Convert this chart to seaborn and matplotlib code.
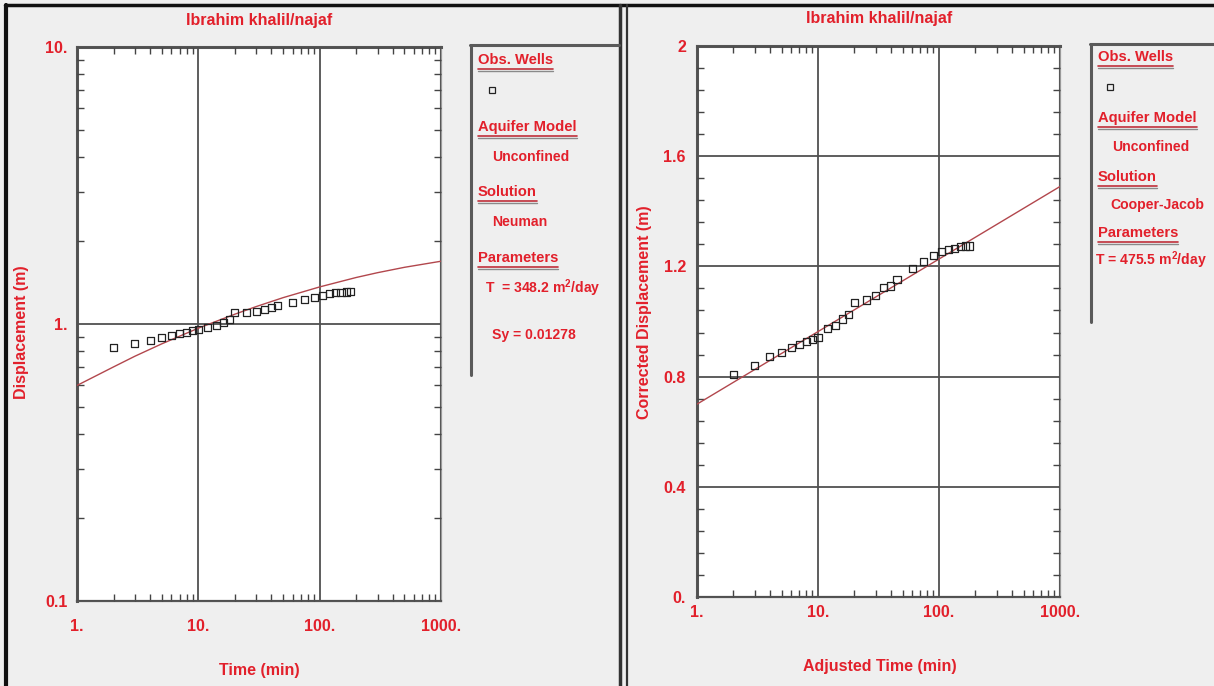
import numpy as np
import pandas as pd
import matplotlib
matplotlib.use("Agg")
import matplotlib.pyplot as plt
import seaborn as sns
from matplotlib import font_manager
from matplotlib.ticker import FixedLocator, FixedFormatter, NullFormatter
from matplotlib.lines import Line2D

# ---------------- data ----------------
time_min = [2, 3, 4, 5, 6, 7, 8, 9, 10, 12, 14, 16, 18, 20, 25, 30, 35, 40, 45,
            60, 75, 90, 105, 120, 135, 150, 165, 180]
displacement_m = [0.82, 0.85, 0.875, 0.895, 0.91, 0.925, 0.935, 0.945, 0.955,
                  0.975, 0.99, 1.01, 1.035, 1.10, 1.10, 1.11, 1.13, 1.15, 1.17,
                  1.20, 1.23, 1.25, 1.27, 1.285, 1.295, 1.30, 1.305, 1.31]
corrected_displacement_m = [0.809, 0.84, 0.872, 0.887, 0.905, 0.918, 0.926,
                            0.935, 0.943, 0.973, 0.986, 1.009, 1.026, 1.07,
                            1.078, 1.094, 1.123, 1.129, 1.151, 1.193, 1.217,
                            1.241, 1.253, 1.26, 1.266, 1.271, 1.274, 1.274]
neuman_t = [1, 2, 3, 5, 10, 20, 30, 50, 100, 200, 300, 500, 1000]
neuman_s = [0.60, 0.70, 0.765, 0.848, 0.966, 1.085, 1.156, 1.245, 1.361,
            1.472, 1.532, 1.602, 1.685]
cooper_jacob_t = [1, 1000]
cooper_jacob_s = [0.70, 1.49]

x_ticks = [1, 10, 100, 1000]
x_tick_labels = ["1.", "10.", "100.", "1000."]
left_y_ticks = [0.1, 1, 10]
left_y_tick_labels = ["0.1", "1.", "10."]
right_y_ticks = [0, 0.4, 0.8, 1.2, 1.6, 2.0]
right_y_tick_labels = ["0.", "0.4", "0.8", "1.2", "1.6", "2"]

title_text = "Ibrahim khalil/najaf"
left_legend = [("Obs. Wells", None), ("Aquifer Model", "Unconfined"),
               ("Solution", "Neuman"),
               ("Parameters", r"T  = 348.2 m$^{\mathbf{2}}$/day")]
left_extra = "Sy = 0.01278"
right_legend = [("Obs. Wells", None), ("Aquifer Model", "Unconfined"),
                ("Solution", "Cooper-Jacob"),
                ("Parameters", r"T = 475.5 m$^{\mathbf{2}}$/day")]

# ---------------- style ----------------
sns.set_theme(style="white")
names = {f.name for f in font_manager.fontManager.ttflist}
narrow = "Liberation Sans Narrow" in names
base_font = "Liberation Sans Narrow" if narrow else "Liberation Sans"
plt.rcParams["font.family"] = [base_font, "DejaVu Sans"]
plt.rcParams["mathtext.fontset"] = "custom"
plt.rcParams["mathtext.rm"] = base_font
plt.rcParams["mathtext.bf"] = base_font + ":bold"
scale = 1.0 if narrow else 0.92

RED = "#e2202b"
CURVE = "#b2474d"
BG = "#efefef"
W, H = 1214, 686

def fx(x):
    return x / W

def fy(y):
    return 1 - y / H

fig = plt.figure(figsize=(W / 100, H / 100), dpi=100, facecolor=BG)

axL = fig.add_axes([fx(77), fy(601), (441 - 77) / W, (601 - 47) / H])
axR = fig.add_axes([fx(697), fy(597), (1060 - 697) / W, (597 - 46) / H])

df = pd.DataFrame({"t": time_min, "s": displacement_m, "sc": corrected_displacement_m})
dN = pd.DataFrame({"t": neuman_t, "s": neuman_s})
dC = pd.DataFrame({"t": cooper_jacob_t, "s": cooper_jacob_s})

for ax in (axL, axR):
    ax.set_facecolor("white")
    ax.set_xscale("log")

axL.set_yscale("log")

sns.lineplot(data=dN, x="t", y="s", ax=axL, color=CURVE, lw=1.0, zorder=3)
sns.scatterplot(data=df, x="t", y="s", ax=axL, marker="s", s=26, zorder=4)
sns.lineplot(data=dC, x="t", y="s", ax=axR, color=CURVE, lw=1.0, zorder=3)
sns.scatterplot(data=df, x="t", y="sc", ax=axR, marker="s", s=26, zorder=4)

for ax in (axL, axR):
    coll = ax.collections[-1]
    coll.set_facecolor("none")
    coll.set_edgecolor("#222222")
    coll.set_linewidth(0.9)
    ax.set_xlim(1, 1000)
    ax.set_xlabel("")
    ax.set_ylabel("")
    ax.xaxis.set_major_locator(FixedLocator(x_ticks))
    ax.xaxis.set_major_formatter(FixedFormatter(x_tick_labels))
    ax.xaxis.set_minor_locator(FixedLocator(
        [m * d for d in (1, 10, 100) for m in range(2, 10)]))
    ax.xaxis.set_minor_formatter(NullFormatter())
    ax.tick_params(which="both", direction="in", top=True, right=True,
                   bottom=True, left=True, colors="#444444",
                   labelcolor=RED, labelsize=12.5 * scale)
    ax.tick_params(which="major", length=0)
    ax.tick_params(which="minor", length=5, width=1.0)
    ax.grid(True, which="major", color="#505050", lw=1.3)
    ax.set_axisbelow(False)
    for side, sp in ax.spines.items():
        sp.set_visible(True)
        sp.set_color("#555555" if side in ("left", "top", "bottom") else "#9a9a9a")
        sp.set_linewidth(2.2 if side in ("left", "top") else 1.6)

axL.set_ylim(0.1, 10)
axL.yaxis.set_major_locator(FixedLocator(left_y_ticks))
axL.yaxis.set_major_formatter(FixedFormatter(left_y_tick_labels))
axL.yaxis.set_minor_locator(FixedLocator([m * d for d in (0.1, 1) for m in range(2, 10)]))
axL.yaxis.set_minor_formatter(NullFormatter())
axL.tick_params(axis="x", which="major", pad=13)
axL.tick_params(axis="y", which="major", pad=7)

axR.set_ylim(0, 2)
axR.yaxis.set_major_locator(FixedLocator(right_y_ticks))
axR.yaxis.set_major_formatter(FixedFormatter(right_y_tick_labels))
axR.yaxis.set_minor_locator(FixedLocator(list(np.arange(0.08, 2.0, 0.08))))
axR.yaxis.set_minor_formatter(NullFormatter())
axR.tick_params(axis="x", which="major", pad=6)
axR.tick_params(axis="y", which="major", pad=8)

for ax in (axL, axR):
    for lab in ax.get_xticklabels() + ax.get_yticklabels():
        lab.set_fontweight("bold")

# ---------------- titles and axis labels ----------------
tkw = dict(color=RED, fontweight="bold", ha="center", va="center")
fs_lab = 12.5 * scale
fig.text(fx(259), fy(21), title_text, fontsize=fs_lab, **tkw)
fig.text(fx(879), fy(19), title_text, fontsize=fs_lab, **tkw)
fig.text(fx(259), fy(670), "Time (min)", fontsize=fs_lab, **tkw)
fig.text(fx(880), fy(667), "Adjusted Time (min)", fontsize=fs_lab, **tkw)
fig.text(fx(22), fy(332), "Displacement (m)", rotation=90, fontsize=fs_lab, **tkw)
fig.text(fx(645), fy(312), "Corrected Displacement (m)", rotation=90,
         fontsize=fs_lab, **tkw)

# ---------------- frames ----------------
def fline(xs, ys, color="#333333", lw=1.5):
    fig.add_artist(Line2D([fx(x) for x in xs], [fy(y) for y in ys],
                          color=color, lw=lw, transform=fig.transFigure))

fline([6, 6], [5, 690], "#111111", 3)
fline([5, 1220], [5, 5], "#111111", 2.5)
fline([620, 620], [5, 690], "#333333", 2.5)
fline([627, 627], [5, 690], "#333333", 1.6)
# legend boxes
fline([470, 619], [45, 45], "#5a5a5a", 2.2)
fline([471, 471], [45, 375], "#5a5a5a", 2.2)
fline([1090, 1220], [44, 44], "#5a5a5a", 2.2)
fline([1091, 1091], [44, 322], "#5a5a5a", 2.2)

# ---------------- legend panels ----------------
hkw = dict(color=RED, fontweight="bold", ha="left", va="center", fontsize=11.5 * scale)
vkw = dict(hkw, fontsize=11 * scale)
heads = []

def legend_panel(x0, head_y, val_y, entries, marker_xy):
    for (head, val), hy, vy in zip(entries, head_y, val_y):
        t = fig.text(fx(x0), fy(hy), head, **hkw)
        heads.append((t, hy))
        if val is not None:
            fig.text(fx(vy[0]), fy(vy[1]), val, **vkw)
    fig.add_artist(Line2D([fx(marker_xy[0])], [fy(marker_xy[1])], marker="s",
                          ms=5, mfc="none", mec="#222222", mew=0.9, ls="none",
                          transform=fig.transFigure))

legend_panel(478, [60, 127, 192, 258],
             [None, (492, 157), (492, 222), (485, 288)], left_legend, (492, 90))
fig.text(fx(492), fy(335), left_extra, **vkw)
legend_panel(1098, [57, 118, 177, 233],
             [None, (1112, 147), (1110, 205), (1095, 260)], right_legend, (1110, 87))

fig.canvas.draw()
renderer = fig.canvas.get_renderer()
for t, hy in heads:
    bb = t.get_window_extent(renderer)
    x0p, x1p = bb.x0, bb.x1
    ybase = hy + 9
    fig.add_artist(Line2D([x0p / W, x1p / W], [fy(ybase), fy(ybase)],
                          color="#c0303a", lw=1.2, transform=fig.transFigure))
    fig.add_artist(Line2D([x0p / W, x1p / W], [fy(ybase + 1.5), fy(ybase + 1.5)],
                          color="#8a8a8a", lw=1.0, transform=fig.transFigure))

fig.savefig("out.png", dpi=100, facecolor=BG)
